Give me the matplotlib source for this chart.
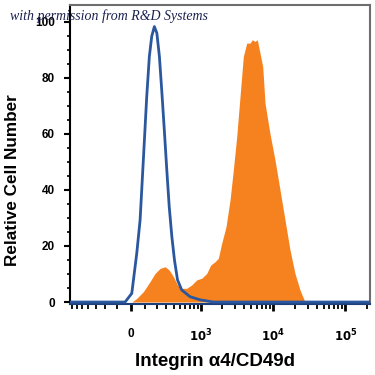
import numpy as np
import matplotlib
matplotlib.use("Agg")
import matplotlib.pyplot as plt
from matplotlib.ticker import FixedLocator, NullFormatter

# ---- data (fluorescence intensity vs relative cell number) ----
iso_x = [-750, -42, 5, 40, 64, 88, 114, 135, 155, 178, 201, 226, 252, 278, 307, 337,
         372, 409, 456, 528, 699, 972, 1494, 218000]
iso_y = [0, 0, 3.1, 17.4, 29.3, 50.7, 73.3, 87.6, 94.8, 98.3, 96, 87.6, 74.5, 61.4, 47.1, 34,
         23.3, 15, 7.9, 4.3, 1.9, 0.8, 0, 0]

stain_x = [-750, 5, 40, 88, 141, 184, 233, 288, 337, 395, 456, 528, 626, 740, 873, 1030,
           1207, 1374, 1578, 1753, 1955, 2243, 2548, 2829, 3153, 3502, 3890, 4334, 4814,
           5179, 5641, 6070, 6618, 7212, 7755, 9093, 10652, 12494, 14639, 17160, 20112,
           23584, 27654, 218000]
stain_y = [0, 0, 1.3, 3.7, 7.3, 10.2, 12, 12.6, 11.4, 9, 6.1, 4.9, 4.9, 6.1, 7.9, 8.5,
           10.2, 13.2, 14.4, 15.6, 21, 26.9, 36.4, 47.1, 59, 73.3, 87.6, 92.4, 92.4,
           93.6, 93, 93.6, 88.8, 84, 71, 60, 50.7, 40, 29.3, 18.6, 10.2,
           4.3, 0, 0]

x_major = [0, 1e3, 1e4, 1e5]
x_major_labels = ['0', r'$\mathbf{10^{3}}$', r'$\mathbf{10^{4}}$', r'$\mathbf{10^{5}}$']
x_minor = ([-700, -600, -500, -400, -300, -200, -100, 100, 200, 300, 400, 500, 600, 700, 800, 900]
           + [k * 1e3 for k in range(2, 10)] + [k * 1e4 for k in range(2, 10)] + [2e5])
y_major = [0, 20, 40, 60, 80, 100]
y_minor = [5, 10, 15, 25, 30, 35, 45, 50, 55, 65, 70, 75, 85, 90, 95]

C = 220.0
def fwd(x):
    return np.arcsinh(np.asarray(x, dtype=float) / C) / np.log(10)
def inv(y):
    return C * np.sinh(np.asarray(y, dtype=float) * np.log(10))

fig = plt.figure(figsize=(3.75, 3.75), dpi=100)
ax = fig.add_axes([70/375, 1 - 304/375, 300/375, 299/375])
ax.set_xscale('function', functions=(fwd, inv))

ax.fill_between(stain_x, stain_y, 0, color='#F5821F', linewidth=0, zorder=2)
ax.plot(iso_x, iso_y, color='#2A579E', linewidth=2.0, zorder=3,
        solid_joinstyle='round', solid_capstyle='round')

ax.set_xlim(-750, 218000)
ax.set_ylim(-0.7, 106)

ax.xaxis.set_major_locator(FixedLocator(x_major))
ax.set_xticklabels(x_major_labels)
ax.xaxis.set_minor_locator(FixedLocator(x_minor))
ax.xaxis.set_minor_formatter(NullFormatter())
ax.yaxis.set_major_locator(FixedLocator(y_major))
ax.yaxis.set_minor_locator(FixedLocator(y_minor))

for lab in ax.get_xticklabels() + ax.get_yticklabels():
    lab.set_fontweight('bold')
    lab.set_fontfamily('Liberation Sans')
    lab.set_fontsize(8.5)

ax.tick_params(axis='x', which='major', direction='out', length=5, width=2, pad=12, color='black')
ax.tick_params(axis='x', which='minor', direction='out', length=3.5, width=1.3, color='black')
ax.tick_params(axis='y', which='major', direction='out', length=4, width=1.5, pad=7, color='black')
ax.tick_params(axis='y', which='minor', direction='out', length=2.5, width=1.2, color='black')

ax.spines['left'].set_color('black')
ax.spines['left'].set_linewidth(1.5)
ax.spines['bottom'].set_color('#1f3f7a')
ax.spines['bottom'].set_linewidth(1.5)
for s in ['top', 'right']:
    ax.spines[s].set_color('#6e6e6e')
    ax.spines[s].set_linewidth(1.5)

fig.text(13/375, 1 - 180/375, 'Relative Cell Number', rotation=90, ha='center', va='center',
         fontsize=12.3, fontweight='bold', family=['Liberation Sans', 'DejaVu Sans'])
fig.text(215/375, 1 - 362/375, 'Integrin α4/CD49d', ha='center', va='center',
         fontsize=13.5, fontweight='bold', family=['Liberation Sans', 'DejaVu Sans'])
fig.text(10/375, 1 - 16/375, 'with permission from R&D Systems', ha='left', va='center',
         fontsize=10, style='italic', color='#1c2150', family=['Liberation Serif', 'DejaVu Serif'])

fig.savefig('out.png', dpi=100)
